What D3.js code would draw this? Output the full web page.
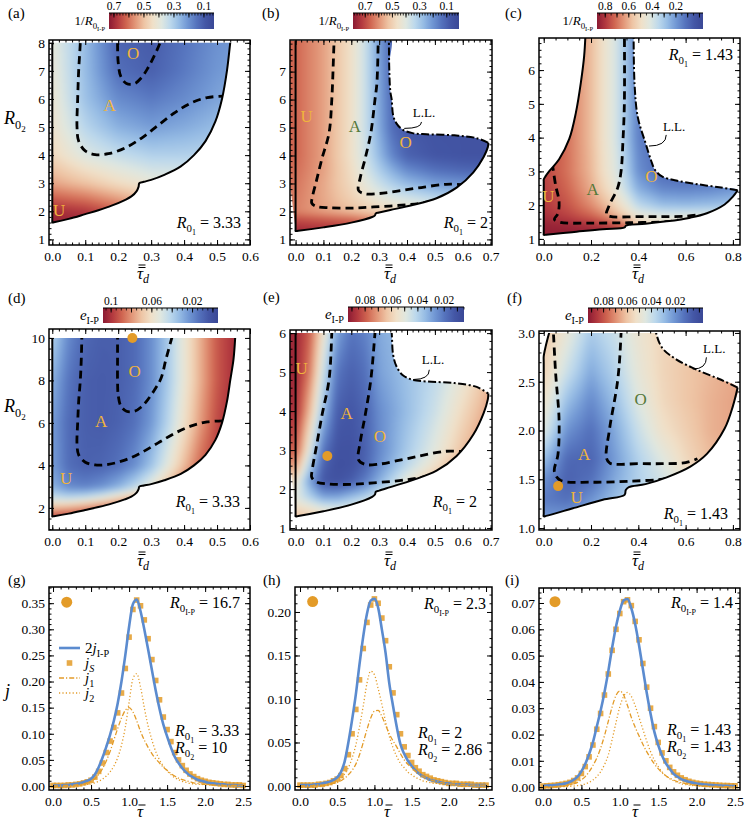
<!DOCTYPE html>
<html>
<head>
<meta charset="utf-8">
<script src="https://cdn.jsdelivr.net/npm/d3@7"></script>
<style>
body { margin: 0; background: #fff; }
svg { display: block; }
text { font-family: "Liberation Serif", "Times New Roman", serif; fill: #000; }
</style>
</head>
<body>
<script>
// ---------- heat map grids (tau_d along x, R02 along y) ----------
var aX = [0, 0.1, 0.2, 0.3, 0.4, 0.5, 0.6];
var aY = [1.5, 2, 3, 4, 5, 6, 7, 8];
var aV = [
  [0.72, 0.72, 0.70, 0.66, 0.60, 0.55, 0.55],
  [0.70, 0.68, 0.63, 0.56, 0.50, 0.48, 0.48],
  [0.54, 0.50, 0.45, 0.41, 0.40, 0.40, 0.40],
  [0.46, 0.38, 0.34, 0.31, 0.31, 0.32, 0.33],
  [0.43, 0.32, 0.25, 0.22, 0.24, 0.27, 0.28],
  [0.42, 0.28, 0.19, 0.16, 0.19, 0.23, 0.25],
  [0.41, 0.27, 0.14, 0.11, 0.16, 0.21, 0.23],
  [0.40, 0.27, 0.12, 0.10, 0.15, 0.20, 0.22]];

var bX = [0, 0.1, 0.2, 0.25, 0.3, 0.35, 0.4, 0.5, 0.6, 0.7];
var bY = [1.3, 1.7, 2, 2.5, 3, 3.5, 4, 5, 8.3];
var bV = [
  [0.76, 0.75, 0.74, 0.73, 0.72, 0.70, 0.68, 0.65, 0.62, 0.60],
  [0.70, 0.68, 0.66, 0.63, 0.60, 0.58, 0.56, 0.53, 0.50, 0.48],
  [0.62, 0.58, 0.54, 0.52, 0.50, 0.49, 0.47, 0.45, 0.42, 0.40],
  [0.63, 0.57, 0.50, 0.46, 0.42, 0.39, 0.37, 0.33, 0.30, 0.30],
  [0.64, 0.57, 0.48, 0.42, 0.36, 0.31, 0.27, 0.22, 0.20, 0.20],
  [0.65, 0.58, 0.47, 0.39, 0.31, 0.24, 0.18, 0.13, 0.11, 0.10],
  [0.66, 0.58, 0.46, 0.37, 0.27, 0.17, 0.10, 0.07, 0.06, 0.06],
  [0.66, 0.58, 0.46, 0.36, 0.24, 0.12, 0.08, 0.06, 0.06, 0.06],
  [0.66, 0.58, 0.46, 0.36, 0.22, 0.10, 0.07, 0.06, 0.06, 0.06]];

var cX = [0, 0.1, 0.2, 0.25, 0.3, 0.35, 0.4, 0.5, 0.6, 0.7, 0.85];
var cY = [1.1, 1.4, 1.7, 2, 2.5, 3, 4, 7.3];
var cV = [
  [0.86, 0.86, 0.86, 0.85, 0.84, 0.82, 0.70, 0.60, 0.60, 0.60, 0.60],
  [0.85, 0.84, 0.82, 0.80, 0.76, 0.70, 0.55, 0.50, 0.50, 0.50, 0.50],
  [0.82, 0.78, 0.72, 0.67, 0.60, 0.52, 0.45, 0.42, 0.42, 0.42, 0.42],
  [0.80, 0.75, 0.66, 0.60, 0.53, 0.45, 0.35, 0.28, 0.27, 0.28, 0.30],
  [0.79, 0.72, 0.61, 0.53, 0.46, 0.36, 0.24, 0.16, 0.15, 0.16, 0.20],
  [0.78, 0.70, 0.59, 0.50, 0.43, 0.32, 0.18, 0.10, 0.08, 0.08, 0.08],
  [0.78, 0.70, 0.58, 0.49, 0.41, 0.29, 0.15, 0.08, 0.06, 0.06, 0.06],
  [0.78, 0.70, 0.58, 0.49, 0.41, 0.29, 0.14, 0.07, 0.06, 0.06, 0.06]];

var dX = [0, 0.05, 0.1, 0.15, 0.2, 0.25, 0.3, 0.35, 0.4, 0.45, 0.5, 0.56];
var dY = [1.5, 2, 2.5, 3, 4, 6, 8, 10.2];
var dV = [
  [0.098, 0.100, 0.102, 0.104, 0.105, 0.106, 0.106, 0.106, 0.106, 0.106, 0.106, 0.106],
  [0.072, 0.075, 0.080, 0.086, 0.092, 0.097, 0.100, 0.104, 0.106, 0.106, 0.106, 0.106],
  [0.045, 0.042, 0.045, 0.052, 0.062, 0.072, 0.082, 0.090, 0.098, 0.103, 0.106, 0.106],
  [0.030, 0.020, 0.018, 0.022, 0.030, 0.042, 0.056, 0.072, 0.088, 0.098, 0.104, 0.106],
  [0.025, 0.012, 0.008, 0.009, 0.013, 0.021, 0.035, 0.053, 0.072, 0.089, 0.100, 0.106],
  [0.025, 0.011, 0.007, 0.006, 0.008, 0.013, 0.024, 0.041, 0.060, 0.079, 0.095, 0.105],
  [0.030, 0.014, 0.007, 0.006, 0.007, 0.011, 0.021, 0.037, 0.056, 0.075, 0.092, 0.103],
  [0.040, 0.020, 0.010, 0.007, 0.007, 0.011, 0.021, 0.037, 0.056, 0.075, 0.092, 0.103]];

var eX = [0, 0.05, 0.1, 0.15, 0.2, 0.25, 0.3, 0.4, 0.5, 0.6, 0.7];
var eY = [1.25, 1.5, 1.8, 2.2, 2.6, 3, 4, 5, 6.1];
var eV = [
  [0.065, 0.062, 0.060, 0.060, 0.062, 0.065, 0.070, 0.072, 0.075, 0.078, 0.080],
  [0.058, 0.055, 0.050, 0.048, 0.050, 0.055, 0.060, 0.068, 0.072, 0.076, 0.080],
  [0.050, 0.040, 0.030, 0.030, 0.035, 0.040, 0.048, 0.060, 0.070, 0.075, 0.080],
  [0.055, 0.030, 0.012, 0.010, 0.014, 0.022, 0.032, 0.052, 0.066, 0.074, 0.080],
  [0.070, 0.040, 0.015, 0.009, 0.010, 0.016, 0.026, 0.042, 0.056, 0.070, 0.078],
  [0.080, 0.050, 0.020, 0.010, 0.010, 0.015, 0.024, 0.038, 0.050, 0.064, 0.075],
  [0.088, 0.065, 0.035, 0.014, 0.012, 0.016, 0.025, 0.035, 0.045, 0.058, 0.070],
  [0.090, 0.075, 0.045, 0.020, 0.015, 0.019, 0.029, 0.036, 0.042, 0.052, 0.065],
  [0.090, 0.080, 0.055, 0.030, 0.020, 0.023, 0.031, 0.036, 0.040, 0.050, 0.060]];

var fX = [0, 0.1, 0.2, 0.3, 0.4, 0.5, 0.6, 0.7, 0.85];
var fY = [1.1, 1.3, 1.5, 1.7, 2.0, 2.3, 2.6, 3.0];
var fV = [
  [0.022, 0.022, 0.028, 0.034, 0.040, 0.045, 0.050, 0.055, 0.060],
  [0.015, 0.012, 0.020, 0.030, 0.038, 0.042, 0.050, 0.055, 0.060],
  [0.020, 0.008, 0.012, 0.025, 0.035, 0.042, 0.050, 0.058, 0.062],
  [0.030, 0.010, 0.009, 0.022, 0.035, 0.045, 0.055, 0.062, 0.066],
  [0.045, 0.020, 0.012, 0.025, 0.040, 0.052, 0.058, 0.064, 0.068],
  [0.052, 0.030, 0.018, 0.030, 0.045, 0.055, 0.060, 0.064, 0.068],
  [0.057, 0.040, 0.025, 0.035, 0.048, 0.056, 0.060, 0.063, 0.067],
  [0.060, 0.048, 0.033, 0.040, 0.050, 0.056, 0.058, 0.062, 0.066]];

// ---------- region boundaries and contour lines ----------
var edge333 = [[0.56,10.6],[0.555,10],[0.55,9],[0.54,8],[0.53,7],[0.515,6],[0.495,5.2],[0.465,4.5],[0.43,4.0],[0.39,3.6],[0.34,3.3],[0.3,3.12],[0.278,3.05],[0.264,3.0],[0.262,2.88],[0.256,2.72],[0.24,2.53],[0.22,2.4],[0.18,2.2],[0.14,2.04],[0.1,1.9],[0.05,1.73],[0.005,1.61],[0,1.6],[0,1.65],[0,10.6]];
var con333A = [[0.09,10.3],[0.088,9],[0.085,8],[0.08,7],[0.077,6],[0.075,5],[0.08,4.5],[0.1,4.15],[0.13,4.02],[0.17,4.05],[0.22,4.25],[0.27,4.6],[0.32,5.05],[0.37,5.5],[0.42,5.85],[0.47,6.05],[0.52,6.1]];
var con333O = [[0.198,10.3],[0.198,9],[0.198,8],[0.2,7.3],[0.208,6.8],[0.225,6.55],[0.25,6.55],[0.27,6.75],[0.29,7.1],[0.31,7.55],[0.33,8.1],[0.345,9],[0.368,10.3]];

var solid2 = [[0.692,4.45],[0.69,4.3],[0.675,3.95],[0.638,3.4],[0.578,2.85],[0.506,2.47],[0.42,2.23],[0.34,2.05],[0.3,1.96],[0.288,1.93],[0.285,1.86],[0.275,1.8],[0.2,1.6],[0.1,1.43],[0.01,1.31],[0,1.3],[0,1.35],[0,8.4]];
var ll2 = [[0.335,8.4],[0.336,7.2],[0.34,6.3],[0.345,6],[0.35,5.45],[0.362,5.15],[0.385,4.92],[0.42,4.8],[0.47,4.76],[0.57,4.72],[0.65,4.62],[0.692,4.45]];
var con2A = [[0.139,8.4],[0.135,7.2],[0.13,6],[0.12,4.8],[0.095,3.9],[0.075,3.1],[0.06,2.5],[0.058,2.3],[0.075,2.18],[0.12,2.13],[0.2,2.12],[0.28,2.16],[0.4,2.24],[0.47,2.33],[0.52,2.47]];
var con2O = [[0.297,8.4],[0.292,6.6],[0.285,6],[0.27,4.8],[0.25,3.9],[0.232,3.2],[0.226,2.75],[0.25,2.63],[0.3,2.64],[0.36,2.72],[0.44,2.84],[0.54,2.97],[0.62,2.95]];

var solid143 = [[0.178,7.3],[0.171,6.42],[0.157,5.63],[0.136,4.74],[0.108,3.96],[0.065,3.36],[0.025,3.02],[0.008,2.86],[0,2.76],[0,2.7],[0,1.15],[0,1.12],[0.01,1.125],[0.12,1.2],[0.25,1.29],[0.342,1.34],[0.347,1.39],[0.36,1.42],[0.43,1.45],[0.52,1.52],[0.62,1.63],[0.69,1.76],[0.765,2.02],[0.8,2.25],[0.82,2.44]];
var ll143 = [[0.82,2.44],[0.75,2.52],[0.65,2.62],[0.56,2.73],[0.5,2.85],[0.47,3.05],[0.455,3.3],[0.43,3.85],[0.398,4.6],[0.384,5.6],[0.38,7.3]];
var con143U = [[0.036,3.25],[0.05,2.6],[0.065,2.1],[0.06,1.75],[0.045,1.58],[0.07,1.49],[0.2,1.47],[0.36,1.48],[0.52,1.51],[0.57,1.56]];
var con143O = [[0.341,7.3],[0.341,5],[0.335,3.9],[0.327,3.0],[0.313,2.52],[0.278,2.01],[0.265,1.72],[0.28,1.665],[0.4,1.66],[0.5,1.66],[0.6,1.67],[0.65,1.71]];

// ---------- tick labels ----------
var xTicksA = [0, 0.1, 0.2, 0.3, 0.4, 0.5, 0.6];
var xTicksB = [0, 0.1, 0.2, 0.3, 0.4, 0.5, 0.6, 0.7];
var xTicksC = [0, 0.2, 0.4, 0.6, 0.8];
var yTicksA = [1, 2, 3, 4, 5, 6, 7, 8];
var yTicksB = [1, 2, 3, 4, 5, 6, 7];
var yTicksC = [1, 2, 3, 4, 5, 6];
var yTicksD = [2, 4, 6, 8, 10];
var yTicksE = [1, 2, 3, 4, 5, 6];
var yTicksF = [1.0, 1.5, 2.0, 2.5, 3.0];
var cbLabR = [0.7, 0.5, 0.3, 0.1];
var cbLabC = [0.8, 0.6, 0.4, 0.2];
var cbLabD = [0.1, 0.06, 0.02];
var cbLabE = [0.08, 0.06, 0.04, 0.02];
var tTicks = [0, 0.5, 1, 1.5, 2, 2.5];
var jTicksG = [0, 0.05, 0.1, 0.15, 0.2, 0.25, 0.3, 0.35];
var jTicksH = [0, 0.05, 0.1, 0.15, 0.2];
var jTicksI = [0, 0.01, 0.02, 0.03, 0.04, 0.05, 0.06, 0.07];

// ---------- epidemic curves ----------
var tau = [0,0.05,0.1,0.15,0.2,0.25,0.3,0.35,0.4,0.45,0.5,0.55,0.6,0.65,0.7,0.75,0.8,0.85,0.9,0.95,1.0,1.05,1.1,1.15,1.2,1.25,1.3,1.35,1.4,1.45,1.5,1.55,1.6,1.65,1.7,1.75,1.8,1.85,1.9,1.95,2.0,2.05,2.1,2.15,2.2,2.25,2.3,2.35,2.4,2.45,2.5];

var gBlue = [0.001,0.001,0.001,0.002,0.002,0.003,0.004,0.005,0.007,0.010,0.014,0.022,0.036,0.054,0.075,0.098,0.125,0.158,0.200,0.250,0.305,0.348,0.357,0.335,0.300,0.262,0.222,0.183,0.148,0.118,0.095,0.074,0.056,0.044,0.034,0.026,0.020,0.016,0.012,0.010,0.008,0.006,0.005,0.004,0.003,0.003,0.002,0.002,0.002,0.001,0.001];
var gJS = [0.001,0.001,0.001,0.001,0.002,0.002,0.003,0.004,0.006,0.008,0.011,0.017,0.028,0.044,0.064,0.086,0.112,0.140,0.178,0.225,0.285,0.338,0.356,0.345,0.318,0.282,0.242,0.202,0.165,0.132,0.108,0.085,0.064,0.050,0.039,0.030,0.023,0.018,0.014,0.011,0.009,0.007,0.006,0.005,0.004,0.003,0.003,0.002,0.002,0.002,0.001];
var gJ1 = [0,0,0.001,0.001,0.001,0.001,0.002,0.003,0.004,0.006,0.009,0.014,0.022,0.033,0.048,0.066,0.088,0.110,0.130,0.145,0.150,0.142,0.125,0.105,0.088,0.074,0.062,0.052,0.044,0.036,0.030,0.024,0.019,0.015,0.012,0.010,0.008,0.006,0.005,0.004,0.003,0.003,0.002,0.002,0.002,0.001,0.001,0.001,0.001,0.001,0.001];
var gJ2 = [0,0,0,0,0,0.001,0.001,0.001,0.002,0.003,0.004,0.006,0.009,0.013,0.019,0.027,0.038,0.054,0.078,0.112,0.160,0.205,0.215,0.190,0.150,0.115,0.088,0.066,0.050,0.038,0.029,0.022,0.016,0.012,0.009,0.007,0.005,0.004,0.003,0.003,0.002,0.002,0.001,0.001,0.001,0.001,0.001,0.001,0.001,0.001,0.001];

var hBlue = [0.001,0.001,0.001,0.001,0.002,0.002,0.003,0.004,0.005,0.007,0.010,0.016,0.028,0.050,0.076,0.105,0.140,0.172,0.198,0.213,0.215,0.205,0.180,0.153,0.118,0.092,0.068,0.048,0.037,0.029,0.023,0.018,0.014,0.011,0.009,0.007,0.006,0.005,0.004,0.003,0.003,0.002,0.002,0.002,0.002,0.002,0.001,0.001,0.001,0.001,0.001];
var hJS = [0.001,0.001,0.001,0.001,0.001,0.002,0.002,0.003,0.004,0.006,0.008,0.012,0.020,0.036,0.060,0.088,0.122,0.158,0.188,0.208,0.215,0.210,0.193,0.167,0.137,0.107,0.082,0.060,0.045,0.035,0.027,0.021,0.017,0.013,0.011,0.009,0.007,0.006,0.005,0.004,0.003,0.003,0.003,0.002,0.002,0.002,0.002,0.001,0.001,0.001,0.001];
var hJ1 = [0,0,0,0,0.001,0.001,0.001,0.001,0.002,0.003,0.004,0.006,0.009,0.013,0.018,0.025,0.036,0.050,0.065,0.078,0.086,0.087,0.080,0.070,0.060,0.052,0.045,0.037,0.030,0.025,0.021,0.017,0.014,0.011,0.009,0.007,0.006,0.005,0.004,0.003,0.003,0.002,0.002,0.002,0.002,0.002,0.001,0.001,0.001,0.001,0.001];
var hJ2 = [0,0,0,0,0.001,0.001,0.001,0.001,0.002,0.003,0.005,0.008,0.014,0.021,0.032,0.047,0.068,0.092,0.118,0.132,0.128,0.112,0.094,0.074,0.057,0.044,0.034,0.026,0.021,0.016,0.013,0.010,0.008,0.006,0.005,0.004,0.003,0.003,0.002,0.002,0.002,0.001,0.001,0.001,0.001,0.001,0.001,0.001,0.001,0.001,0.001];

var iBlue = [0.0005,0.0006,0.0007,0.0008,0.001,0.0012,0.0015,0.002,0.0028,0.004,0.006,0.0088,0.0125,0.017,0.023,0.029,0.036,0.044,0.053,0.061,0.067,0.071,0.0715,0.068,0.062,0.054,0.045,0.036,0.028,0.021,0.016,0.012,0.009,0.007,0.005,0.004,0.003,0.0025,0.002,0.0017,0.0014,0.0012,0.001,0.0009,0.0008,0.0007,0.0006,0.0005,0.0005,0.0004,0.0004];
var iJS = [0.0004,0.0005,0.0006,0.0007,0.0009,0.0011,0.0014,0.0018,0.0025,0.0035,0.0052,0.0078,0.0115,0.016,0.022,0.028,0.035,0.043,0.052,0.060,0.066,0.0705,0.0712,0.069,0.063,0.056,0.047,0.038,0.030,0.023,0.017,0.013,0.010,0.0075,0.0058,0.0045,0.0035,0.0028,0.0022,0.0018,0.0015,0.0013,0.0011,0.001,0.0009,0.0008,0.0007,0.0006,0.0006,0.0005,0.0005];
var iJ1 = [0.0001,0.0001,0.0002,0.0002,0.0003,0.0004,0.0005,0.0008,0.0012,0.0018,0.0028,0.004,0.0058,0.0082,0.011,0.0148,0.0195,0.025,0.0305,0.0348,0.0365,0.035,0.031,0.0265,0.0228,0.0195,0.0163,0.0135,0.011,0.0088,0.007,0.0055,0.0043,0.0034,0.0027,0.0021,0.0017,0.0013,0.001,0.0008,0.0007,0.0006,0.0005,0.0004,0.0004,0.0003,0.0003,0.0002,0.0002,0.0002,0.0002];
var iJ2 = [0.0001,0.0001,0.0001,0.0001,0.0001,0.0002,0.0002,0.0003,0.0004,0.0006,0.0008,0.0012,0.0018,0.0027,0.004,0.0058,0.0085,0.0122,0.018,0.0245,0.0305,0.0345,0.036,0.0345,0.031,0.0265,0.022,0.0175,0.0135,0.0103,0.0078,0.0058,0.0043,0.0032,0.0024,0.0018,0.0013,0.001,0.0008,0.0006,0.0005,0.0004,0.0003,0.0003,0.0002,0.0002,0.0002,0.0001,0.0001,0.0001,0.0001];

// ---------- colours ----------
var palette = ["#8b1a33","#b43a3f","#d06651","#e29678","#eec4a4","#f0e0c8","#dfe7e0","#bcd8ec","#95bbe4","#7096d3","#5573bd","#4457a6","#3a4896"];
var ORANGE = "#e39b28", LETTER = "#f0b43c", GREEN = "#55783a", BLUE = "#5b8bcf";

var ramp = d3.scaleLinear().domain(palette.map(function(d, i){ return i / (palette.length - 1); })).range(palette).clamp(true);
var lut = d3.range(256).map(function(i){ return d3.rgb(ramp(i / 255)); });

var svg = d3.select("body").append("svg").attr("width", 745).attr("height", 823)
  .attr("font-family", "'Liberation Serif', 'Times New Roman', serif");
var grad = svg.append("defs").append("linearGradient").attr("id", "cbgrad");
d3.range(25).forEach(function(i){
  grad.append("stop").attr("offset", (i / 24 * 100) + "%").attr("stop-color", ramp(i / 24));
});

function minor(a, b, s) {
  return d3.range(Math.round(a / s), Math.round(b / s) + 1).map(function(k){ return +(k * s).toFixed(6); });
}

function bilerp(xs, ys, v, px, py) {
  var i = Math.max(0, Math.min(xs.length - 2, d3.bisectRight(xs, px) - 1));
  var j = Math.max(0, Math.min(ys.length - 2, d3.bisectRight(ys, py) - 1));
  var tx = Math.max(0, Math.min(1, (px - xs[i]) / (xs[i+1] - xs[i])));
  var ty = Math.max(0, Math.min(1, (py - ys[j]) / (ys[j+1] - ys[j])));
  var a = v[j][i], b = v[j][i+1], c = v[j+1][i], d = v[j+1][i+1];
  return (a * (1 - tx) + b * tx) * (1 - ty) + (c * (1 - tx) + d * tx) * ty;
}

// text with sub / sub-sub scripts
function rich(g, x, y, parts, size, anchor) {
  var t = g.append("text").attr("x", x).attr("y", y).attr("font-size", size).attr("text-anchor", anchor || "start");
  var cur = 0;
  parts.forEach(function(p){
    var lvl = p.s || 0;
    var off = lvl === 0 ? 0 : (lvl === 1 ? size * 0.28 : size * 0.45);
    var fs = lvl === 0 ? size : (lvl === 1 ? size * 0.68 : size * 0.5);
    t.append("tspan").attr("dy", off - cur).attr("font-size", fs)
      .attr("font-style", p.i ? "italic" : "normal").text(p.t);
    cur = off;
  });
  return t;
}

function tauTitle(cx, base, dbl, sub) {
  var t = svg.append("text").attr("x", cx - 4).attr("y", base).attr("font-size", 17).attr("font-style", "italic");
  t.append("tspan").text("τ");
  if (sub) t.append("tspan").attr("dy", 4).attr("font-size", 12).text("d");
  var bars = dbl ? [base - 11.5, base - 14] : [base - 12];
  bars.forEach(function(yy){
    svg.append("line").attr("x1", cx - 2.5).attr("x2", cx + 4.5).attr("y1", yy).attr("y2", yy)
      .attr("stroke", "#000").attr("stroke-width", 1);
  });
}

function frameTicks(g, x, y, o) {
  var xd = x.domain(), yd = y.domain();
  var inX = function(v){ return v >= Math.min(xd[0], xd[1]) - 1e-9 && v <= Math.max(xd[0], xd[1]) + 1e-9; };
  var inY = function(v){ return v >= Math.min(yd[0], yd[1]) - 1e-9 && v <= Math.max(yd[0], yd[1]) + 1e-9; };
  var xb = x.range(), yb = y.range();
  function add(axis, tr, vals, size, fmt, pad) {
    var a = g.append("g").attr("transform", tr)
      .call(axis.tickValues(vals).tickSize(size).tickPadding(pad || 3).tickFormat(fmt));
    a.attr("font-family", null).attr("font-size", null);
    a.select(".domain").remove();
    a.selectAll("line").attr("stroke", "#000").attr("stroke-width", 1);
    a.selectAll("text").attr("font-size", 13.5).attr("fill", "#000");
  }
  var xt = o.xt.filter(inX), xm = o.xm.filter(inX), yt = o.yt.filter(inY), ym = o.ym.filter(inY);
  add(d3.axisBottom(x), "translate(0," + yb[0] + ")", xt, -5, d3.format(o.xf), 6);
  add(d3.axisBottom(x), "translate(0," + yb[0] + ")", xm, -2.5, "");
  add(d3.axisTop(x), "translate(0," + yb[1] + ")", xt, -5, "");
  add(d3.axisTop(x), "translate(0," + yb[1] + ")", xm, -2.5, "");
  add(d3.axisLeft(y), "translate(" + xb[0] + ",0)", yt, -5, d3.format(o.yf), 4);
  add(d3.axisLeft(y), "translate(" + xb[0] + ",0)", ym, -2.5, "");
  add(d3.axisRight(y), "translate(" + xb[1] + ",0)", yt, -5, "");
  add(d3.axisRight(y), "translate(" + xb[1] + ",0)", ym, -2.5, "");
  g.append("rect").attr("x", xb[0]).attr("y", yb[1]).attr("width", xb[1] - xb[0]).attr("height", yb[0] - yb[1])
    .attr("fill", "none").attr("stroke", "#000").attr("stroke-width", 1.5);
}

function heatImage(p, x, y) {
  var m = 12;
  var X0 = p.box[0] - m, Y0 = p.box[2] - m;
  var w = p.box[1] - p.box[0] + 2 * m, h = p.box[3] - p.box[2] + 2 * m;
  var cA = document.createElement("canvas"); cA.width = w; cA.height = h;
  var ctx = cA.getContext("2d");
  var im = ctx.createImageData(w, h);
  var cbs = d3.scaleLinear().domain(p.cb).range([0, 1]).clamp(true);
  for (var r = 0; r < h; r++) {
    var dy = y.invert(Y0 + r + 0.5);
    for (var c = 0; c < w; c++) {
      var dx = x.invert(X0 + c + 0.5);
      var col = lut[Math.round(cbs(bilerp(p.gx, p.gy, p.gv, dx, dy)) * 255)];
      var o = 4 * (r * w + c);
      im.data[o] = col.r; im.data[o+1] = col.g; im.data[o+2] = col.b; im.data[o+3] = 255;
    }
  }
  ctx.putImageData(im, 0, 0);
  var cB = document.createElement("canvas"); cB.width = w; cB.height = h;
  var ctx2 = cB.getContext("2d");
  ctx2.filter = "blur(3px)";
  ctx2.drawImage(cA, 0, 0);
  return { url: cB.toDataURL(), x: X0, y: Y0, w: w, h: h };
}

function colorBar(p) {
  var b = p.cbBox;
  var s = d3.scaleLinear().domain(p.cb).range([b[0], b[1]]);
  svg.append("rect").attr("x", b[0]).attr("y", b[2]).attr("width", b[1] - b[0]).attr("height", b[3] - b[2])
    .attr("fill", "url(#cbgrad)");
  var lo = Math.min(p.cb[0], p.cb[1]), hi = Math.max(p.cb[0], p.cb[1]);
  var mn = minor(0, hi, p.cbMinor).filter(function(v){ return v >= lo && v <= hi; });
  var mj = minor(0, hi, p.cbMajor).filter(function(v){ return v >= lo && v <= hi; });
  var g = svg.append("g");
  mn.forEach(function(v){
    g.append("line").attr("x1", s(v)).attr("x2", s(v)).attr("y1", b[2]).attr("y2", b[2] + 2.5).attr("stroke", "#000").attr("stroke-width", 0.8);
  });
  mj.forEach(function(v){
    g.append("line").attr("x1", s(v)).attr("x2", s(v)).attr("y1", b[2]).attr("y2", b[2] + 4.5).attr("stroke", "#000").attr("stroke-width", 0.9);
  });
  g.append("line").attr("x1", b[0]).attr("x2", b[1]).attr("y1", b[2]).attr("y2", b[2]).attr("stroke", "#000").attr("stroke-width", 1.2);
  p.cbLab.forEach(function(v){
    g.append("text").attr("x", s(v)).attr("y", b[2] - 3).attr("text-anchor", "middle").attr("font-size", 11.5).text(String(v));
  });
  rich(svg, b[0] - 4, b[2] + 12, p.cbTitle, p.cbTitleSize, "end");
}

function drawHeat(p) {
  var g = svg.append("g");
  var x = d3.scaleLinear().domain(p.xd).range([p.box[0], p.box[1]]);
  var y = d3.scaleLinear().domain(p.yd).range([p.box[3], p.box[2]]);
  var ln = d3.line().x(function(d){ return x(d[0]); }).y(function(d){ return y(d[1]); }).curve(d3.curveCatmullRom.alpha(0.5));
  var defs = g.append("defs");
  var ytop = Math.max(y(p.top), p.box[2]);
  defs.append("clipPath").attr("id", p.id + "-top").append("rect")
    .attr("x", p.box[0]).attr("y", ytop).attr("width", p.box[1] - p.box[0]).attr("height", p.box[3] - ytop);
  defs.append("clipPath").attr("id", p.id + "-reg").append("path").attr("d", ln(p.region) + "Z");
  var im = heatImage(p, x, y);
  var gt = g.append("g").attr("clip-path", "url(#" + p.id + "-top)");
  var gr = gt.append("g").attr("clip-path", "url(#" + p.id + "-reg)");
  gr.append("image").attr("href", im.url).attr("x", im.x).attr("y", im.y)
    .attr("width", im.w).attr("height", im.h).attr("preserveAspectRatio", "none");
  gr.selectAll("path.con").data(p.cons).join("path").attr("class", "con").attr("d", ln)
    .attr("fill", "none").attr("stroke", "#000").attr("stroke-width", 2.8).attr("stroke-dasharray", "8,5");
  gt.append("path").attr("d", ln(p.solid)).attr("fill", "none").attr("stroke", "#000").attr("stroke-width", 2);
  if (p.ll) {
    gt.append("path").attr("d", ln(p.ll)).attr("fill", "none").attr("stroke", "#000")
      .attr("stroke-width", 2).attr("stroke-dasharray", "8,2.5,2,2.5");
  }
  p.letters.forEach(function(l){
    g.append("text").attr("x", x(l[1])).attr("y", y(l[2])).attr("text-anchor", "middle")
      .attr("dominant-baseline", "central").attr("font-size", 17)
      .style("fill", l[3] === "g" ? GREEN : LETTER).text(l[0]);
  });
  if (p.lltext) {
    var q = p.lltext;
    g.append("text").attr("x", x(q.t[0])).attr("y", y(q.t[1])).attr("font-size", 13).text("L.L.");
    var sx = x(q.s[0]), sy = y(q.s[1]), ex = x(q.e[0]), ey = y(q.e[1]);
    g.append("path").attr("d", "M" + sx + "," + sy + " Q" + sx + "," + ey + " " + ex + "," + ey)
      .attr("fill", "none").attr("stroke", "#000").attr("stroke-width", 1);
  }
  frameTicks(g, x, y, p);
  if (p.dot) {
    g.append("circle").attr("cx", x(p.dot[0])).attr("cy", y(p.dot[1])).attr("r", 5).attr("fill", ORANGE);
  }
  rich(g, p.r01[0], p.r01[1], [{t: "R", i: 1}, {t: "0", s: 1}, {t: "1", s: 2}, {t: " = " + p.r01[2]}], 16, p.r01[3]);
  colorBar(p);
}

function drawLines(p) {
  var g = svg.append("g");
  var x = d3.scaleLinear().domain(p.xd).range([p.box[0], p.box[1]]);
  var y = d3.scaleLinear().domain(p.yd).range([p.box[3], p.box[2]]);
  g.append("defs").append("clipPath").attr("id", p.id + "-clip").append("rect")
    .attr("x", p.box[0]).attr("y", p.box[2]).attr("width", p.box[1] - p.box[0]).attr("height", p.box[3] - p.box[2]);
  var gc = g.append("g").attr("clip-path", "url(#" + p.id + "-clip)");
  var mk = function(vals){ return tau.map(function(t, i){ return [t, vals[i]]; }); };
  var ln = d3.line().x(function(d){ return x(d[0]); }).y(function(d){ return y(d[1]); }).curve(d3.curveMonotoneX);
  gc.selectAll("rect.sq").data(mk(p.js)).join("rect").attr("class", "sq")
    .attr("x", function(d){ return x(d[0]) - 2.8; }).attr("y", function(d){ return y(d[1]) - 2.8; })
    .attr("width", 5.6).attr("height", 5.6).attr("fill", ORANGE).attr("fill-opacity", 0.85);
  gc.append("path").attr("d", ln(mk(p.blue))).attr("fill", "none").attr("stroke", BLUE).attr("stroke-width", 2.6);
  gc.append("path").attr("d", ln(mk(p.j1))).attr("fill", "none").attr("stroke", ORANGE).attr("stroke-width", 1.3).attr("stroke-dasharray", "5,2,1.2,2");
  gc.append("path").attr("d", ln(mk(p.j2))).attr("fill", "none").attr("stroke", ORANGE).attr("stroke-width", 1.3).attr("stroke-dasharray", "1.2,2.2");
  frameTicks(g, x, y, p);
  g.append("circle").attr("cx", x(p.dot[0])).attr("cy", y(p.dot[1])).attr("r", 5.5).attr("fill", ORANGE);
  var T = p.texts;
  rich(g, T.ip[0], T.ip[1], [{t: "R", i: 1}, {t: "0", s: 1}, {t: "I-P", s: 2}, {t: " = " + T.ip[2]}], 16, "end");
  rich(g, T.r1[0], T.r1[1], [{t: "R", i: 1}, {t: "0", s: 1}, {t: "1", s: 2}, {t: " = " + T.r1[2]}], 16, "start");
  rich(g, T.r2[0], T.r2[1], [{t: "R", i: 1}, {t: "0", s: 1}, {t: "2", s: 2}, {t: " = " + T.r2[2]}], 16, "start");
  if (p.legend) {
    var lx = p.box[0] + 10, tx = p.box[0] + 36, ly = p.box[2] + 61;
    g.append("line").attr("x1", lx).attr("x2", lx + 21).attr("y1", ly).attr("y2", ly).attr("stroke", BLUE).attr("stroke-width", 2.6);
    rich(g, tx, ly + 5, [{t: "2"}, {t: "j", i: 1}, {t: "I-P", s: 1}], 15);
    g.append("rect").attr("x", lx + 7.7).attr("y", ly + 15 - 2.8).attr("width", 5.6).attr("height", 5.6).attr("fill", ORANGE).attr("fill-opacity", 0.85);
    rich(g, tx, ly + 20, [{t: "j", i: 1}, {t: "S", s: 1, i: 1}], 15);
    g.append("line").attr("x1", lx).attr("x2", lx + 21).attr("y1", ly + 30).attr("y2", ly + 30).attr("stroke", ORANGE).attr("stroke-width", 1.3).attr("stroke-dasharray", "5,2,1.2,2");
    rich(g, tx, ly + 35, [{t: "j", i: 1}, {t: "1", s: 1}], 15);
    g.append("line").attr("x1", lx).attr("x2", lx + 21).attr("y1", ly + 45).attr("y2", ly + 45).attr("stroke", ORANGE).attr("stroke-width", 1.3).attr("stroke-dasharray", "1.2,2.2");
    rich(g, tx, ly + 50, [{t: "j", i: 1}, {t: "2", s: 1}], 15);
  }
}

var cbTitleR = [{t: "1/"}, {t: "R", i: 1}, {t: "0", s: 1}, {t: "I-P", s: 2}];
var cbTitleE = [{t: "e", i: 1}, {t: "I-P", s: 1}];

var heatPanels = [
  { id: "a", box: [49, 250, 40, 245], xd: [-0.01, 0.6], yd: [0.8, 8.1], gx: aX, gy: aY, gv: aV,
    region: edge333, solid: edge333.slice(1), ll: null, top: 8, cons: [con333A, con333O],
    xt: xTicksA, xm: minor(0, 0.6, 0.02), yt: yTicksA, ym: minor(1, 8, 0.2), xf: ".1f", yf: "d",
    letters: [["O", 0.245, 7.63, "o"], ["A", 0.174, 5.75, "o"], ["U", 0.021, 2.02, "o"]],
    r01: [241, 228, "3.33", "end"],
    cb: [0.733, 0.033], cbBox: [109, 214, 13, 29], cbMinor: 0.02, cbMajor: 0.1, cbLab: cbLabR, cbTitle: cbTitleR, cbTitleSize: 13 },
  { id: "b", box: [290, 492, 40, 245], xd: [-0.02, 0.705], yd: [0.8, 8.13], gx: bX, gy: bY, gv: bV,
    region: solid2.concat(ll2), solid: solid2, ll: ll2, top: 8.1, cons: [con2A, con2O],
    xt: xTicksB, xm: minor(0, 0.7, 0.02), yt: yTicksB, ym: minor(1, 8, 0.2), xf: ".1f", yf: "d",
    letters: [["U", 0.04, 5.39, "o"], ["A", 0.213, 5.03, "g"], ["O", 0.395, 4.46, "o"]],
    lltext: { t: [0.421, 5.37], s: [0.452, 5.2], e: [0.39, 4.97] },
    r01: [488, 228, "2", "end"],
    cb: [0.79, 0.01], cbBox: [353, 459, 13, 29], cbMinor: 0.02, cbMajor: 0.1, cbLab: cbLabR, cbTitle: cbTitleR, cbTitleSize: 13 },
  { id: "c", box: [539, 740, 38, 245], xd: [-0.02, 0.83], yd: [0.82, 6.95], gx: cX, gy: cY, gv: cV,
    region: solid143.concat(ll143.slice(1)), solid: solid143, ll: ll143, top: 7.3, cons: [con143U, con143O],
    xt: xTicksC, xm: minor(0, 0.85, 0.05), yt: yTicksC, ym: minor(1, 7, 0.2), xf: ".1f", yf: "d",
    letters: [["U", 0.02, 2.27, "o"], ["A", 0.207, 2.46, "g"], ["O", 0.455, 2.86, "o"]],
    lltext: { t: [0.504, 4.19], s: [0.518, 4.08], e: [0.445, 3.75] },
    r01: [733, 60, "1.43", "end"],
    cb: [0.87, -0.03], cbBox: [597, 703, 13, 29], cbMinor: 0.05, cbMajor: 0.1, cbLab: cbLabC, cbTitle: cbTitleR, cbTitleSize: 13 },
  { id: "d", box: [49, 250, 329, 530], xd: [-0.01, 0.6], yd: [0.96, 10.42], gx: dX, gy: dY, gv: dV,
    region: edge333, solid: edge333.slice(1), ll: null, top: 10, cons: [con333A, con333O],
    xt: xTicksA, xm: minor(0, 0.6, 0.02), yt: yTicksD, ym: minor(1, 10.4, 0.5), xf: ".1f", yf: "d",
    letters: [["O", 0.25, 8.41, "o"], ["A", 0.148, 6.06, "o"], ["U", 0.042, 3.4, "o"]],
    dot: [0.243, 10],
    r01: [240, 507, "3.33", "end"],
    cb: [0.108, -0.005], cbBox: [103, 218, 308, 323], cbMinor: 0.005, cbMajor: 0.02, cbLab: cbLabD, cbTitle: cbTitleE, cbTitleSize: 15 },
  { id: "e", box: [290, 492, 330, 530], xd: [-0.02, 0.705], yd: [0.95, 6.08], gx: eX, gy: eY, gv: eV,
    region: solid2.concat(ll2), solid: solid2, ll: ll2, top: 6, cons: [con2A, con2O],
    xt: xTicksB, xm: minor(0, 0.7, 0.02), yt: yTicksE, ym: minor(1, 6, 0.2), xf: ".1f", yf: "d",
    letters: [["U", 0.022, 5.09, "o"], ["A", 0.183, 3.94, "o"], ["O", 0.303, 3.34, "o"]],
    lltext: { t: [0.453, 5.2], s: [0.48, 5.06], e: [0.422, 4.81] },
    dot: [0.114, 2.85],
    r01: [477, 507, "2", "end"],
    cb: [0.093, 0.005], cbBox: [348, 464, 307, 322], cbMinor: 0.005, cbMajor: 0.01, cbLab: cbLabE, cbTitle: cbTitleE, cbTitleSize: 15 },
  { id: "f", box: [539, 740, 331, 530], xd: [-0.02, 0.83], yd: [0.98, 3.02], gx: fX, gy: fY, gv: fV,
    region: solid143.concat(ll143.slice(1)), solid: solid143, ll: ll143, top: 3.0, cons: [con143U, con143O],
    xt: xTicksC, xm: minor(0, 0.85, 0.05), yt: yTicksF, ym: minor(1, 3, 0.1), xf: ".1f", yf: ".1f",
    letters: [["O", 0.41, 2.32, "g"], ["A", 0.171, 1.75, "o"], ["U", 0.139, 1.31, "o"]],
    lltext: { t: [0.674, 2.79], s: [0.688, 2.75], e: [0.63, 2.63] },
    dot: [0.061, 1.43],
    r01: [728, 519, "1.43", "end"],
    cb: [0.093, -0.003], cbBox: [588, 703, 308, 323], cbMinor: 0.005, cbMajor: 0.01, cbLab: cbLabE, cbTitle: cbTitleE, cbTitleSize: 15 }
];

var linePanels = [
  { id: "g", box: [49, 250, 587, 790], xd: [-0.053, 2.59], yd: [-0.0077, 0.381],
    blue: gBlue, js: gJS, j1: gJ1, j2: gJ2, dot: [0.18, 0.352], legend: true,
    xt: tTicks, xm: minor(0, 2.5, 0.1), yt: jTicksG, ym: minor(0, 0.38, 0.01), xf: ".1f", yf: ".2f",
    texts: { ip: [240, 608, "16.7"], r1: [175, 736, "3.33"], r2: [175, 753, "10"] } },
  { id: "h", box: [295, 492, 587, 790], xd: [-0.067, 2.58], yd: [-0.0046, 0.2287],
    blue: hBlue, js: hJS, j1: hJ1, j2: hJ2, dot: [0.17, 0.212], legend: false,
    xt: tTicks, xm: minor(0, 2.5, 0.1), yt: jTicksH, ym: minor(0, 0.22, 0.01), xf: ".1f", yf: ".2f",
    texts: { ip: [486, 609, "2.3"], r1: [418, 738, "2"], r2: [418, 755, "2.86"] } },
  { id: "i", box: [539, 740, 588, 790], xd: [-0.052, 2.565], yd: [-0.0011, 0.0757],
    blue: iBlue, js: iJS, j1: iJ1, j2: iJ2, dot: [0.156, 0.0705], legend: false,
    xt: tTicks, xm: minor(0, 2.5, 0.1), yt: jTicksI, ym: minor(0, 0.075, 0.002), xf: ".1f", yf: ".2f",
    texts: { ip: [733, 608, "1.4"], r1: [667, 735, "1.43"], r2: [667, 752, "1.43"] } }
];

heatPanels.forEach(drawHeat);
linePanels.forEach(drawLines);

// panel letters
[["(a)", 8, 18], ["(b)", 262, 18], ["(c)", 505, 18], ["(d)", 8, 303], ["(e)", 263, 302], ["(f)", 507, 303],
 ["(g)", 8, 585], ["(h)", 263, 585], ["(i)", 505, 585]].forEach(function(l){
  svg.append("text").attr("x", l[1]).attr("y", l[2]).attr("font-size", 15).text(l[0]);
});

// axis titles
rich(svg, 4, 124, [{t: "R", i: 1}, {t: "0", s: 1}, {t: "2", s: 2}], 18);
rich(svg, 4, 412, [{t: "R", i: 1}, {t: "0", s: 1}, {t: "2", s: 2}], 18);
svg.append("text").attr("x", 5).attr("y", 697).attr("font-size", 18).attr("font-style", "italic").text("j");
[141, 388, 636].forEach(function(cx){
  tauTitle(cx, 279, true, true);
  tauTitle(cx, 566, true, true);
  tauTitle(cx, 817, false, false);
});
</script>
</body>
</html>
